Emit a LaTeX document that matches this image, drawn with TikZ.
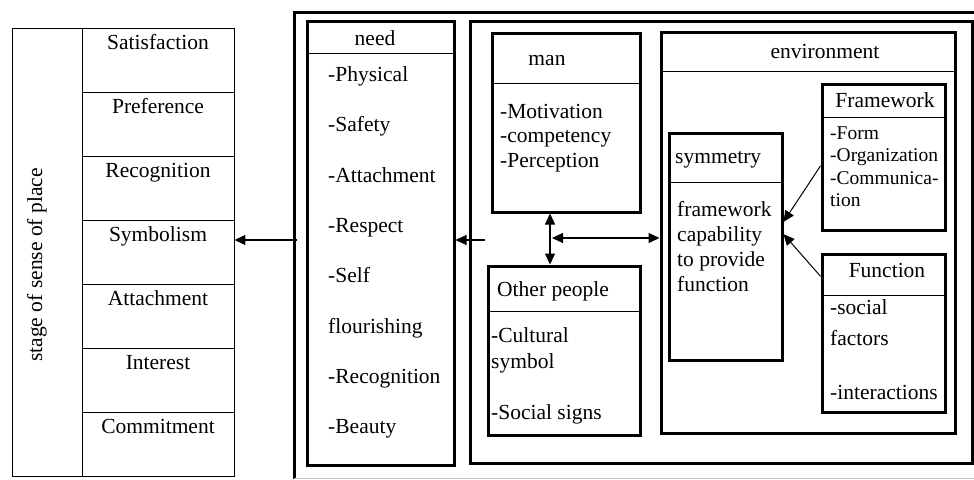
\documentclass[tikz,border=0pt]{standalone}
\usepackage{fontspec}
\setmainfont{Liberation Serif}
\usetikzlibrary{arrows.meta}

\begin{document}
\begin{tikzpicture}[x=1pt, y=-1pt, font=\fontsize{21.5}{26}\selectfont,
		cellbox/.style={draw, line width=0.9pt, inner sep=0pt},
		bigbox/.style={draw, line width=3pt, inner sep=0pt},
		headline/.style={line width=0.9pt},
		item/.style={anchor=base west, inner sep=0pt},
		title/.style={anchor=base, inner sep=0pt},
		smallitem/.style={anchor=base west, inner sep=0pt, font=\fontsize{19.5}{23}\selectfont},
		link/.style={line width=1.2pt, -{Triangle[length=11pt,width=10pt]}},
		twoway/.style={line width=1.2pt, {Triangle[length=11pt,width=10pt]}-{Triangle[length=11pt,width=10pt]}}]
		\useasboundingbox (0,0) rectangle (974,479);

		\node[cellbox, minimum width=70, minimum height=448] (stage) at (47,252) {};
		\node[rotate=90, inner sep=0pt] (stagetext) at (37,265) {stage of sense of place};
		\node[cellbox, minimum width=152, minimum height=64] (sat) at (158,60) {};
		\node[cellbox, minimum width=152, minimum height=64] (pref) at (158,124) {};
		\node[cellbox, minimum width=152, minimum height=64] (recog) at (158,188) {};
		\node[cellbox, minimum width=152, minimum height=64] (symb) at (158,252) {};
		\node[cellbox, minimum width=152, minimum height=64] (attach) at (158,316) {};
		\node[cellbox, minimum width=152, minimum height=64] (inter) at (158,380) {};
		\node[cellbox, minimum width=152, minimum height=64] (commit) at (158,444) {};
		\node[title] (satt) at (158,49) {Satisfaction};
		\node[title] (preft) at (158,113) {Preference};
		\node[title] (recogt) at (158,177) {Recognition};
		\node[title] (symbt) at (158,241) {Symbolism};
		\node[title] (attacht) at (158,305) {Attachment};
		\node[title] (intert) at (158,369) {Interest};
		\node[title] (committ) at (158,433) {Commitment};

		\draw[line width=3pt] (974,12) -- (294,12) -- (294,479);
		\draw[gray!50, line width=0.8pt] (294,478) -- (974,478);

		\node[bigbox, minimum width=147, minimum height=444] (need) at (380.5,243) {};
		\draw[headline] (307,53) -- (454,53);
		\node[title] (needt) at (375,45) {need};
		\node[item] (n1) at (328,81) {-Physical};
		\node[item] (n2) at (328,131) {-Safety};
		\node[item] (n3) at (328,182) {-Attachment};
		\node[item] (n4) at (328,232) {-Respect};
		\node[item] (n5) at (328,282) {-Self};
		\node[item] (n6) at (328,333) {flourishing};
		\node[item] (n7) at (328,383) {-Recognition};
		\node[item] (n8) at (328,433) {-Beauty};

		\node[bigbox, minimum width=502, minimum height=442] (context) at (721,242) {};

		\node[bigbox, minimum width=148, minimum height=179] (man) at (566,122.5) {};
		\draw[headline] (492,83) -- (640,83);
		\node[title] (mant) at (547,65) {man};
		\node[item] (m1) at (500,118) {-Motivation};
		\node[item] (m2) at (500,142.5) {-competency};
		\node[item] (m3) at (500,167) {-Perception};

		\node[bigbox, minimum width=152, minimum height=169] (other) at (564,350.5) {};
		\draw[headline] (488,311) -- (640,311);
		\node[item] (othert) at (497,296) {Other people};
		\node[item] (o1) at (491,342) {-Cultural};
		\node[item] (o2) at (491,368) {symbol};
		\node[item] (o3) at (491,419) {-Social signs};

		\node[bigbox, minimum width=294, minimum height=401] (env) at (808,232.5) {};
		\draw[headline] (661,71) -- (955,71);
		\node[title] (envt) at (825,58) {environment};

		\node[bigbox, minimum width=113, minimum height=227] (symm) at (725.5,246.5) {};
		\draw[headline] (669,182) -- (782,182);
		\node[item] (symmt) at (675,163) {symmetry};
		\node[item] (s1) at (677,216) {framework};
		\node[item] (s2) at (677,241) {capability};
		\node[item] (s3) at (677,266) {to provide};
		\node[item] (s4) at (677,291) {function};

		\node[bigbox, minimum width=123, minimum height=146] (frame) at (883.5,157) {};
		\draw[headline] (822,117) -- (945,117);
		\node[title] (framet) at (885,107) {Framework};
		\node[smallitem] (f1) at (830,139) {-Form};
		\node[smallitem] (f2) at (830,161) {-Organization};
		\node[smallitem] (f3) at (830,184) {-Communica-};
		\node[smallitem] (f4) at (830,206) {tion};

		\node[bigbox, minimum width=123, minimum height=158] (func) at (883.5,333) {};
		\draw[headline] (822,295) -- (945,295);
		\node[title] (funct) at (887,277) {Function};
		\node[item] (u1) at (830,314) {-social};
		\node[item] (u2) at (830,345) {factors};
		\node[item] (u3) at (830,399) {-interactions};

		\coordinate (outerpt) at (297,240);
		\coordinate (contextpt) at (485,240);
		\coordinate (vx) at (550,0);
		\coordinate (hl) at (552,238);
		\draw[link] (outerpt) -- (outerpt -| symb.east);
		\draw[link] (contextpt) -- (contextpt -| need.east);
		\draw[twoway] (man.south -| vx) -- (other.north -| vx);
		\draw[twoway] (hl) -- (hl -| env.west);
		\draw[link, line width=1pt] (frame.188) -- (symm.23);
		\draw[link, line width=1pt] (func.138) -- (symm.12);
\end{tikzpicture}
\end{document}
